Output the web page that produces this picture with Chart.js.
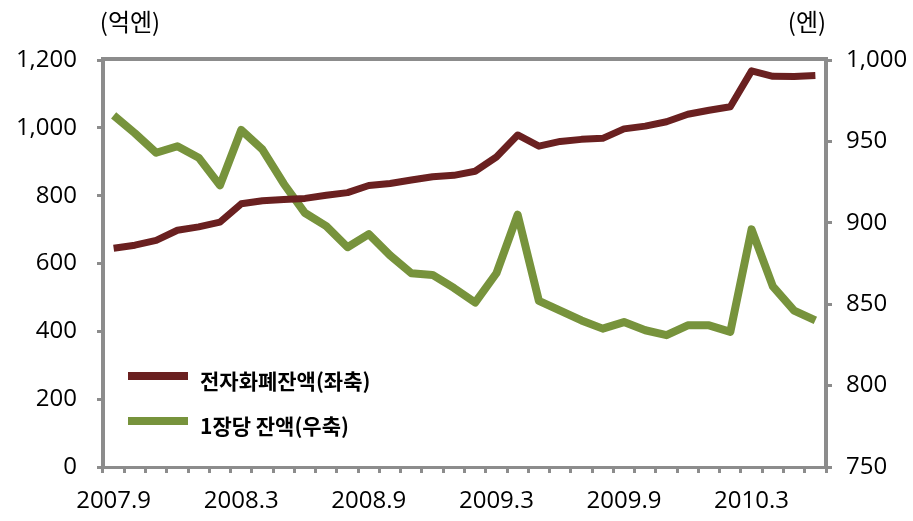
<!DOCTYPE html>
<html>
<head>
<meta charset="utf-8">
<script src="https://cdn.jsdelivr.net/npm/chart.js"></script>
<style>
  body { margin: 0; background: #fff; }
  canvas { display: block; }
</style>
</head>
<body>
<canvas id="chart" width="913" height="521"></canvas>
<script>
// 월별 (2007.9 ~ 2010.6)
const months = [
  '2007.9', '2007.10', '2007.11', '2007.12',
  '2008.1', '2008.2', '2008.3', '2008.4', '2008.5', '2008.6', '2008.7', '2008.8', '2008.9', '2008.10', '2008.11', '2008.12',
  '2009.1', '2009.2', '2009.3', '2009.4', '2009.5', '2009.6', '2009.7', '2009.8', '2009.9', '2009.10', '2009.11', '2009.12',
  '2010.1', '2010.2', '2010.3', '2010.4', '2010.5', '2010.6'
];
const shownMonths = ['2007.9', '2008.3', '2008.9', '2009.3', '2009.9', '2010.3'];

// 전자화폐잔액 (억엔, 좌축)
const balance = [
  645, 654, 668, 698, 708, 722, 776, 785, 789, 792, 801, 809,
  830, 836, 846, 856, 860, 872, 914, 979, 946, 960, 966, 969,
  997, 1005, 1018, 1040, 1052, 1062, 1168, 1152, 1151, 1154
];
// 1장당 잔액 (엔, 우축)
const perCard = [
  966, 955, 943, 947, 940, 923, 957, 945, 924, 906, 898, 885,
  893, 880, 869, 868, 860, 851, 869, 905, 852, 846, 840, 835,
  839, 834, 831, 837, 837, 833, 896, 861, 846, 840
];

const leftTicks = [0, 200, 400, 600, 800, 1000, 1200];
const rightTicks = [750, 800, 850, 900, 950, 1000];

const axisGray = '#8c8c8c';
const tickFont = { family: 'Open Sans', size: 24 };

const frame = {
  id: 'frame',
  afterDraw(chart) {
    const ctx = chart.ctx;
    const a = chart.chartArea;
    ctx.save();
    // top border
    ctx.strokeStyle = axisGray;
    ctx.lineWidth = 4;
    ctx.beginPath();
    ctx.moveTo(a.left - 2, a.top - 1);
    ctx.lineTo(a.right + 2, a.top - 1);
    ctx.stroke();

    // unit labels
    ctx.fillStyle = '#000';
    ctx.font = '24px "Noto Sans CJK KR"';
    ctx.textAlign = 'center';
    ctx.textBaseline = 'middle';
    ctx.fillText('(억엔)', 130, 22);
    ctx.fillText('(엔)', 807, 22);

    // legend inside plot
    ctx.textAlign = 'left';
    ctx.font = 'bold 21px "Noto Sans CJK KR"';
    chart.data.datasets.forEach((ds, i) => {
      const y = a.bottom - 91 + i * 45;
      ctx.strokeStyle = ds.borderColor;
      ctx.lineWidth = 8;
      ctx.lineCap = 'butt';
      ctx.beginPath();
      ctx.moveTo(a.left + 25, y);
      ctx.lineTo(a.left + 85, y);
      ctx.stroke();
      ctx.fillStyle = '#000';
      ctx.fillText(ds.label, a.left + 97, y + 5);
    });
    ctx.restore();
  }
};

new Chart(document.getElementById('chart'), {
  type: 'line',
  data: {
    labels: months,
    datasets: [
      {
        label: '전자화폐잔액(좌축)',
        data: balance,
        yAxisID: 'y',
        borderColor: '#6a2020',
        borderWidth: 7,
        pointRadius: 0,
        tension: 0,
        borderJoinStyle: 'round'
      },
      {
        label: '1장당 잔액(우축)',
        data: perCard,
        yAxisID: 'y1',
        borderColor: '#77933c',
        borderWidth: 8,
        pointRadius: 0,
        tension: 0,
        borderJoinStyle: 'round'
      }
    ]
  },
  options: {
    responsive: false,
    animation: false,
    layout: { padding: { top: 60, left: 0, right: 0, bottom: 0 } },
    plugins: {
      legend: { display: false },
      tooltip: { enabled: false }
    },
    scales: {
      x: {
        offset: true,
        grid: { offset: true, drawOnChartArea: false, color: axisGray, tickLength: 6, lineWidth: 3 },
        border: { color: axisGray, width: 3 },
        ticks: {
          autoSkip: false,
          maxRotation: 0,
          color: '#000',
          font: tickFont,
          padding: 14,
          callback(value) {
            const l = this.getLabelForValue(value);
            return shownMonths.includes(l) ? l : '';
          }
        },
        afterFit(scale) { scale.height = 54; }
      },
      y: {
        position: 'left',
        min: 0,
        max: 1200,
        afterBuildTicks(scale) { scale.ticks = leftTicks.map(v => ({ value: v })); },
        grid: { drawOnChartArea: false, color: axisGray, tickLength: 6, lineWidth: 3 },
        border: { color: axisGray, width: 4 },
        ticks: {
          color: '#000',
          font: tickFont,
          padding: 20,
          callback: v => v.toLocaleString('en-US')
        },
        afterFit(scale) { scale.width = 103; }
      },
      y1: {
        position: 'right',
        min: 750,
        max: 1000,
        afterBuildTicks(scale) { scale.ticks = rightTicks.map(v => ({ value: v })); },
        grid: { drawOnChartArea: false, color: axisGray, tickLength: 6, lineWidth: 3 },
        border: { color: axisGray, width: 4 },
        ticks: {
          color: '#000',
          font: tickFont,
          padding: 14,
          callback: v => v.toLocaleString('en-US')
        },
        afterFit(scale) { scale.width = 87; }
      }
    }
  },
  plugins: [frame]
});
</script>
</body>
</html>
